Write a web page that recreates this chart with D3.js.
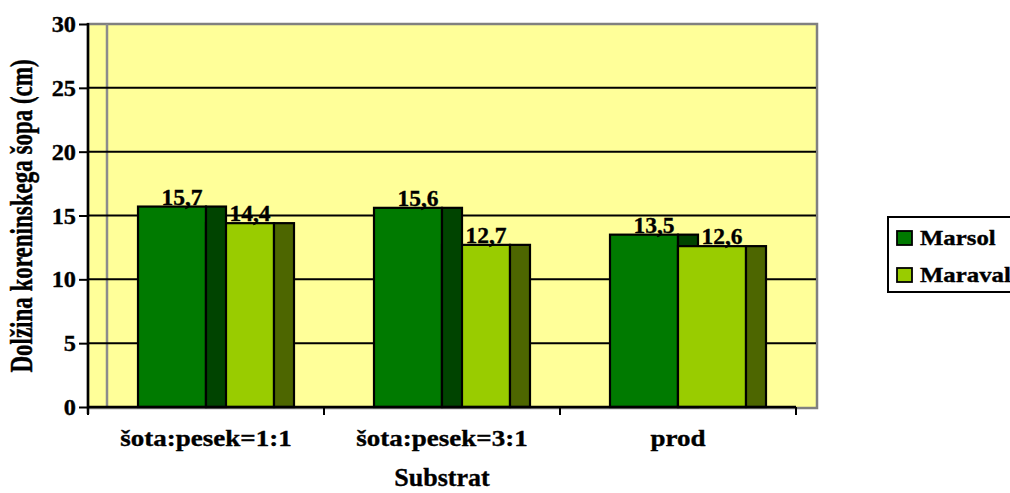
<!DOCTYPE html>
<html>
<head>
<meta charset="utf-8">
<script src="https://cdn.jsdelivr.net/npm/d3@7"></script>
<style>
  html, body { margin: 0; padding: 0; background: #ffffff; }
  svg { display: block; }
  text { font-family: "Liberation Serif", "Times New Roman", serif; font-weight: bold; fill: #000; stroke: #000; stroke-width: 0.35px; }
</style>
</head>
<body>
<svg id="chart" width="1010" height="493"></svg>
<script>
// Root-bundle length (cm) per substrate
const categories = ["šota:pesek=1:1", "šota:pesek=3:1", "prod"];
const series = ["Marsol", "Maraval"];
const marsolValues = [15.7, 15.6, 13.5];
const maravalValues = [14.4, 12.7, 12.6];
const yTicks = [0, 5, 10, 15, 20, 25, 30];
const yTitle = "Dolžina koreninskega šopa (cm)";
const xTitle = "Substrat";

const valuesBySeries = [marsolValues, maravalValues];
const frontColors = ["#007A00", "#99CC00"];
const sideColors = ["#004400", "#4D6600"];

const svg = d3.select("#chart");

const plot = { left: 88, right: 796, top: 24, bottom: 407, wallRight: 817 };
const depth = 20;

const y = d3.scaleLinear().domain([0, 30]).range([plot.bottom, plot.top]);
const x = d3.scaleBand().domain(categories).range([plot.left, plot.right]);
const xs = d3.scaleBand().domain(series).range([0, x.bandwidth()])
  .paddingInner(0).paddingOuter(50 / 68);
const barW = xs.bandwidth();

// wall
svg.append("rect")
  .attr("x", plot.left).attr("y", plot.top)
  .attr("width", plot.wallRight - plot.left).attr("height", plot.bottom - plot.top + 1)
  .attr("fill", "#FFFF99").attr("stroke", "#808080").attr("stroke-width", 2.5);

// back-wall corner edge
svg.append("line")
  .attr("x1", plot.left + depth - 1).attr("x2", plot.left + depth - 1)
  .attr("y1", plot.top).attr("y2", plot.bottom)
  .attr("stroke", "#8c8c8c").attr("stroke-width", 2.5);

// gridlines
svg.append("g").selectAll("line")
  .data(yTicks.filter(t => t > 0 && t < 30))
  .join("line")
  .attr("x1", plot.left).attr("x2", plot.wallRight - 1)
  .attr("y1", d => y(d)).attr("y2", d => y(d))
  .attr("stroke", "#000").attr("stroke-width", 2);

// bars: front face plus side face for each series
// the Marsol side face is painted above the Maraval front where it is drawn last
const marsolSideLast = [true, true, false];

const bars = svg.append("g");
categories.forEach((cat, ci) => {
  const g = bars.append("g");
  const parts = [];
  series.forEach((s, si) => {
    const v = valuesBySeries[si][ci];
    const x0 = x(cat) + xs(s);
    parts.push({ kind: "front", si, x0, v });
    parts.push({ kind: "side", si, x0, v });
  });
  let order = parts.slice();
  if (marsolSideLast[ci]) {
    const side = order.splice(1, 1)[0];
    order.push(side);
  }
  order.forEach(p => {
    const x0 = p.kind === "front" ? p.x0 : p.x0 + barW;
    const w = p.kind === "front" ? barW : depth;
    g.append("rect")
      .attr("x", x0).attr("y", y(p.v))
      .attr("width", w).attr("height", y(0) - y(p.v))
      .attr("fill", p.kind === "front" ? frontColors[p.si] : sideColors[p.si])
      .attr("stroke", "#000").attr("stroke-width", 2.2);
  });
});

// value labels
const fmt = v => d3.format(".1f")(v).replace(".", ",");
series.forEach((s, si) => {
  svg.append("g").selectAll("text")
    .data(valuesBySeries[si])
    .join("text")
    .attr("x", (d, i) => x(categories[i]) + xs(s) + (barW + depth) / 2)
    .attr("y", d => y(d) - 2)
    .attr("text-anchor", "middle")
    .attr("font-size", 23.5)
    .text(fmt);
});

// y axis
const yAxis = d3.axisLeft(y).tickValues(yTicks).tickSize(9).tickPadding(3).tickFormat(d3.format("d"));
const yg = svg.append("g").attr("transform", `translate(${plot.left},0)`).call(yAxis);
yg.select(".domain").remove();
yg.selectAll(".tick line").attr("stroke", "#000").attr("stroke-width", 2);
yg.selectAll(".tick text")
  .attr("font-size", 22.5)
  .attr("dy", "0.34em")
  .attr("transform", "scale(1.08,1)")
  .attr("x", -12 / 1.08);
svg.append("line")
  .attr("x1", plot.left).attr("x2", plot.left)
  .attr("y1", plot.top - 1).attr("y2", plot.bottom + 7)
  .attr("stroke", "#000").attr("stroke-width", 2.5);

// x axis: baseline, boundary ticks, category labels
svg.append("line")
  .attr("x1", plot.left).attr("x2", plot.right)
  .attr("y1", plot.bottom).attr("y2", plot.bottom)
  .attr("stroke", "#000").attr("stroke-width", 2.5);
const bounds = categories.map(c => x(c)).concat([x.range()[1]]);
svg.append("g").selectAll("line")
  .data(bounds)
  .join("line")
  .attr("x1", d => d).attr("x2", d => d)
  .attr("y1", plot.bottom).attr("y2", plot.bottom + 8)
  .attr("stroke", "#000").attr("stroke-width", 2);
svg.append("g").selectAll("text")
  .data(categories)
  .join("text")
  .attr("transform", d => `translate(${x(d) + x.bandwidth() / 2},446) scale(1.2,1)`)
  .attr("text-anchor", "middle")
  .attr("font-size", 22.5)
  .text(d => d);

// axis titles
svg.append("text")
  .attr("transform", `translate(${(plot.left + plot.right) / 2},486)`)
  .attr("text-anchor", "middle")
  .attr("font-size", 26)
  .text(xTitle);
svg.append("text")
  .attr("transform", `translate(32,216) rotate(-90) scale(1,1.35)`)
  .attr("text-anchor", "middle")
  .attr("font-size", 23)
  .text(yTitle);

// legend
const lg = svg.append("g");
lg.append("rect")
  .attr("x", 888).attr("y", 217).attr("width", 140).attr("height", 75)
  .attr("fill", "#fff").attr("stroke", "#000").attr("stroke-width", 2);
series.forEach((s, si) => {
  const row = 231 + si * 37;
  lg.append("rect")
    .attr("x", 897).attr("y", row).attr("width", 15).attr("height", 14)
    .attr("fill", frontColors[si]).attr("stroke", "#000").attr("stroke-width", 1.8);
  lg.append("text")
    .attr("transform", `translate(920,${row + 14}) scale(1.18,1)`)
    .attr("font-size", 21)
    .text(s);
});
</script>
</body>
</html>
